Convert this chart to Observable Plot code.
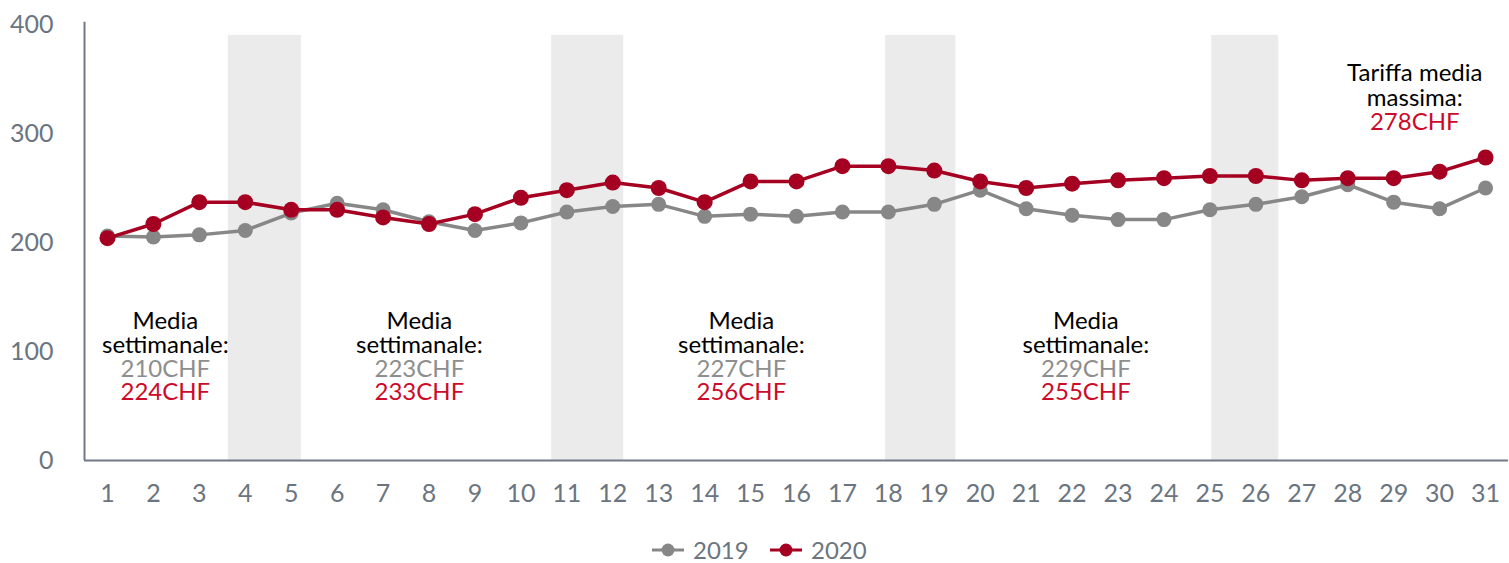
<!DOCTYPE html>
<html>
<head>
<meta charset="utf-8">
<script src="https://cdn.jsdelivr.net/npm/d3@7"></script>
<script src="https://cdn.jsdelivr.net/npm/@observablehq/plot@0.6"></script>
<style>
  html, body { margin: 0; padding: 0; background: #fff; overflow: hidden; }
  body { width: 1509px; height: 563px; font-family: Lato, "Noto Sans", sans-serif; }
  #legend { position: relative; height: 26px; font-size: 24px; color: #6b7580; white-space: nowrap; }
  .item { position: absolute; top: 0; display: flex; align-items: center; height: 26px; }
  .item span { line-height: 24px; }
  .item svg { margin-right: 9px; }
</style>
</head>
<body>
<div id="chart"></div>
<div id="legend"></div>
<script>
// ---- data ----
const days = [1,2,3,4,5,6,7,8,9,10,11,12,13,14,15,16,17,18,19,20,21,22,23,24,25,26,27,28,29,30,31];
const v2019 = [206,205,207,211,227,236,230,219,211,218,228,233,235,224,226,224,228,228,235,248,231,225,221,221,230,235,242,253,237,231,250];
const v2020 = [204,217,237,237,230,230,223,217,226,241,248,255,250,237,256,256,270,270,266,256,250,254,257,259,261,261,257,259,259,265,278];
const yTicks = [0,100,200,300,400];
const series = ["2019","2020"];

// weekend bands (in day units)
const bandStart = [3.63,10.67,17.94,25.04];
const bandEnd   = [5.22,12.24,19.47,26.5];
const bandTop = 390;

// weekly annotations
const annoDay = [2.26,7.79,14.8,22.3];
const annoLine1 = "Media";
const annoLine2 = "settimanale:";
const avg2019 = ["210CHF","223CHF","227CHF","229CHF"];
const avg2020 = ["224CHF","233CHF","256CHF","255CHF"];
const annoY = 128;

const maxDay = 29.46;
const maxY = 355;
const maxLines = ["Tariffa media","massima:","278CHF"];

// ---- build ----
const gray = "#878787", red = "#a50021";
const grayText = "#8e8e8e", redText = "#cc0a2a", axisCol = "#6b7580";
const fs = 24;

const d19 = days.map((d,i) => ({day:d, value:v2019[i]}));
const d20 = days.map((d,i) => ({day:d, value:v2020[i]}));
const bands = bandStart.map((s,i) => ({x1:s, x2:bandEnd[i]}));
const annos = annoDay.map((d,i) => ({day:d, a:avg2019[i], b:avg2020[i]}));

const H = 537;
const chart = Plot.plot({
  width: 1509,
  height: H,
  marginLeft: 84,
  marginRight: 1,
  marginTop: 24,
  marginBottom: H - 460,
  style: {fontFamily: "Lato, 'Noto Sans', sans-serif", fontSize: "25px", color: axisCol, background: "#fff"},
  x: {domain: [0.5, 31.5]},
  y: {domain: [0, 400]},
  marks: [
    Plot.rect(bands, {x1:"x1", x2:"x2", y1:0, y2:bandTop, fill:"#ebebeb"}),
    Plot.ruleX([0.5], {y1:0, y2:402, stroke:"#707985", strokeWidth:2}),
    Plot.ruleY([0], {stroke:"#707985", strokeWidth:2}),
    Plot.axisX({ticks: days, tickSize:0, tickPadding:24, tickFormat: d => String(d), fontSize:25, fill: axisCol, label:null}),
    Plot.axisY({ticks: yTicks, tickSize:0, tickPadding:31, fontSize:25, fill: axisCol, label:null}),
    Plot.line(d19, {x:"day", y:"value", stroke:gray, strokeWidth:3.5}),
    Plot.dot(d19, {x:"day", y:"value", r:7.5, fill:gray, stroke:"none"}),
    Plot.line(d20, {x:"day", y:"value", stroke:red, strokeWidth:3.5}),
    Plot.dot(d20, {x:"day", y:"value", r:8, fill:red, stroke:"none"}),
    Plot.text(annos, {x:"day", y:annoY, text:() => annoLine1, fill:"#000", fontSize:fs}),
    Plot.text(annos, {x:"day", y:annoY, dy:24, text:() => annoLine2, fill:"#000", fontSize:fs}),
    Plot.text(annos, {x:"day", y:annoY, dy:48, text:"a", fill:grayText, fontSize:fs}),
    Plot.text(annos, {x:"day", y:annoY, dy:71, text:"b", fill:redText, fontSize:fs}),
    Plot.text([maxLines[0]], {x:maxDay, y:maxY, text:d => d, fill:"#000", fontSize:fs}),
    Plot.text([maxLines[1]], {x:maxDay, y:maxY, dy:24.5, text:d => d, fill:"#000", fontSize:fs}),
    Plot.text([maxLines[2]], {x:maxDay, y:maxY, dy:49, text:d => d, fill:redText, fontSize:fs})
  ]
});
document.getElementById("chart").appendChild(chart);

// legend
const legend = document.getElementById("legend");
const lefts = [652, 770];
const cols = [gray, red];
series.forEach((s,i) => {
  const item = document.createElement("div");
  item.className = "item";
  item.style.left = lefts[i] + "px";
  item.innerHTML = `<svg width="32" height="16"><line x1="0" y1="8" x2="32" y2="8" stroke="${cols[i]}" stroke-width="3"/><circle cx="16" cy="8" r="6.5" fill="${cols[i]}"/></svg><span>${s}</span>`;
  legend.appendChild(item);
});
</script>
</body>
</html>
